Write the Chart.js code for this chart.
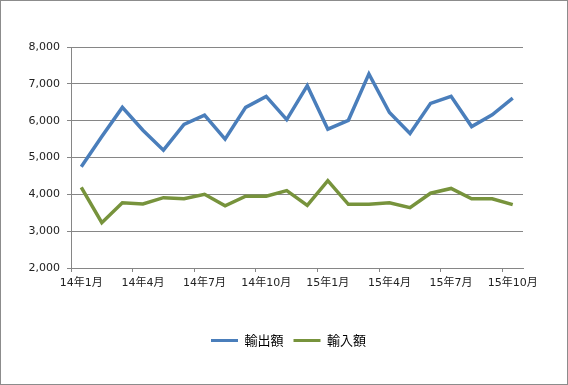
<!DOCTYPE html>
<html>
<head>
<meta charset="utf-8">
<script src="https://cdn.jsdelivr.net/npm/chart.js@4"></script>
<style>
  html, body { margin: 0; padding: 0; background: #fff; }
  #wrap { width: 568px; height: 385px; }
</style>
</head>
<body>
<div id="wrap"><canvas id="chart" width="568" height="385"></canvas></div>
<script>
//-------------------- SETUP BLOCK-------------------
const months = [
    '14年1月', '14年2月', '14年3月', '14年4月', '14年5月', '14年6月',
    '14年7月', '14年8月', '14年9月', '14年10月', '14年11月', '14年12月',
    '15年1月', '15年2月', '15年3月', '15年4月', '15年5月', '15年6月',
    '15年7月', '15年8月', '15年9月', '15年10月'
];
const exportsValues = [4750, 5570, 6360, 5740, 5200, 5900, 6150, 5500, 6360, 6660, 6030,
    6950, 5770, 6010, 7270, 6220, 5650, 6470, 6660, 5840, 6160, 6610];
const importsValues = [4190, 3230, 3770, 3740, 3910, 3880, 4000, 3690, 3950, 3950, 4100,
    3700, 4370, 3730, 3730, 3770, 3640, 4030, 4160, 3880, 3880, 3720];
const yTicks = [2000, 3000, 4000, 5000, 6000, 7000, 8000];

const axisGray = '#868686';

const data = {
    labels: months,
    datasets: [{
        label: '輸出額',
        data: exportsValues,
        borderColor: '#4A7EBB',
        backgroundColor: '#4A7EBB',
        borderWidth: 3.5,
        pointRadius: 0,
        tension: 0
    }, {
        label: '輸入額',
        data: importsValues,
        borderColor: '#77933C',
        backgroundColor: '#77933C',
        borderWidth: 3.5,
        pointRadius: 0,
        tension: 0
    }]
};

// outer frame like the spreadsheet chart box
const framePlugin = {
    id: 'frame',
    afterDraw(chart) {
        const ctx = chart.ctx;
        ctx.save();
        ctx.strokeStyle = '#8c8c8c';
        ctx.lineWidth = 1;
        ctx.strokeRect(0.5, 0.5, chart.width - 1, chart.height - 1);
        ctx.restore();
    }
};

// legend is centred on the whole box, not on the padded area
const legendShift = {
    id: 'legendShift',
    afterLayout(chart) {
        const lg = chart.legend;
        if (!lg) return;
        const dx = 27;
        lg.left += dx;
        lg.right += dx;
    }
};

//------------------- CONFIG BLOCK----------------------
const config = {
    type: 'line',
    data,
    options: {
        responsive: false,
        animation: false,
        layout: { padding: { top: 47, right: 45, bottom: 28, left: 0 } },
        scales: {
            x: {
                type: 'category',
                offset: true,
                grid: {
                    offset: true,
                    drawOnChartArea: false,
                    drawTicks: true,
                    tickLength: 4,
                    tickColor: ctx => (ctx.index % 3 === 0 && ctx.index < months.length) ? axisGray : 'rgba(0,0,0,0)'
                },
                border: { color: axisGray },
                ticks: {
                    autoSkip: false,
                    maxRotation: 0,
                    padding: 5,
                    color: '#222',
                    font: { family: '"DejaVu Sans", "Noto Sans CJK JP"', size: 11 },
                    callback: (val, i) => i % 3 === 0 ? months[i] : ''
                },
                afterFit: scale => { scale.height = 56; }
            },
            y: {
                min: 2000,
                max: 8000,
                afterBuildTicks: scale => { scale.ticks = yTicks.map(v => ({ value: v })); },
                grid: { color: axisGray, tickLength: 4 },
                border: { color: axisGray },
                ticks: {
                    padding: 7,
                    color: '#222',
                    font: { family: '"DejaVu Sans"', size: 11 },
                    callback: v => v.toLocaleString('en-US')
                },
                afterFit: scale => { scale.width = 71; }
            }
        },
        plugins: {
            legend: {
                position: 'bottom',
                labels: {
                    boxWidth: 27,
                    boxHeight: 3,
                    padding: 10,
                    color: '#000',
                    font: { family: '"Noto Sans CJK JP"', size: 13 },
                    generateLabels: chart => Chart.defaults.plugins.legend.labels.generateLabels(chart)
                        .map(item => Object.assign(item, { strokeStyle: 'rgba(0,0,0,0)', lineWidth: 0 }))
                }
            },
            tooltip: { enabled: false }
        }
    },
    plugins: [framePlugin, legendShift]
};

//-------------------RENDER BLOCK----------------------
const myChart = new Chart(document.getElementById('chart'), config);
</script>
</body>
</html>
